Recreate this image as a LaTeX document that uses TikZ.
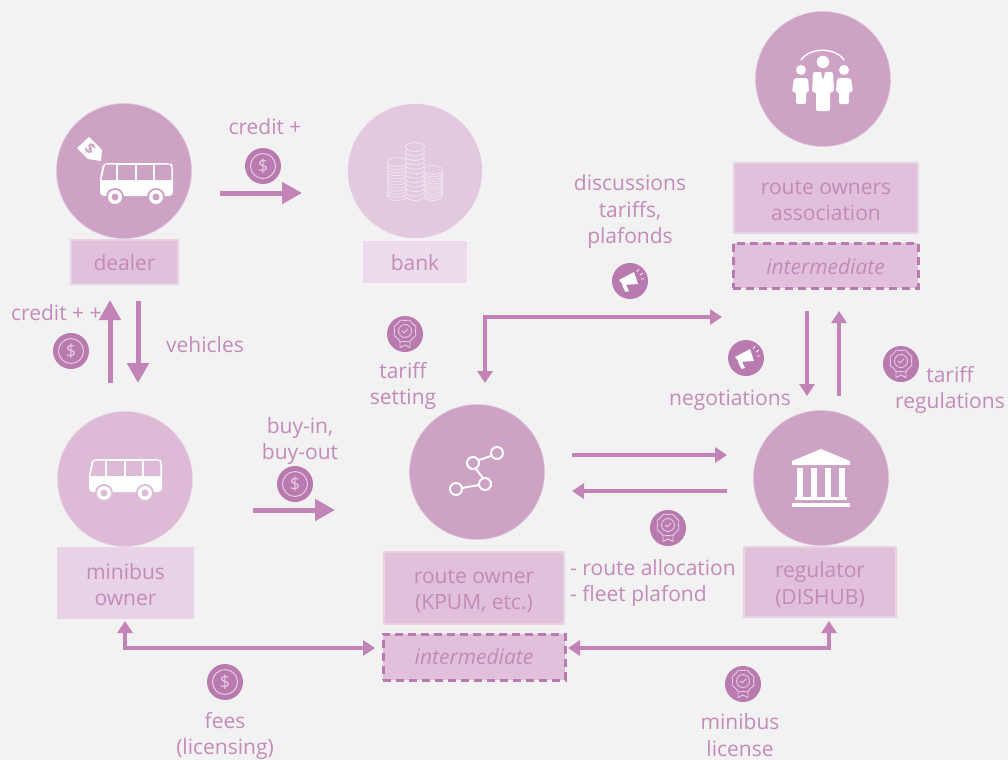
\documentclass[tikz,border=0pt]{standalone}
\usepackage{fontspec}
\setmainfont{Open Sans}
\usetikzlibrary{arrows.meta,calc}
\definecolor{bgc}{HTML}{F2F2F2}
\definecolor{circA}{HTML}{CDA2C5}
\definecolor{circB}{HTML}{DDBAD6}
\definecolor{circC}{HTML}{E3C9E0}
\definecolor{boxA}{HTML}{E0C0DB}
\definecolor{boxB}{HTML}{E8D2E5}
\definecolor{boxC}{HTML}{ECDCEB}
\definecolor{edgeA}{HTML}{E8D2E5}
\definecolor{arrc}{HTML}{C283B6}
\definecolor{txtc}{HTML}{C48ABA}
\definecolor{coinc}{HTML}{B97AAF}
\definecolor{dashc}{HTML}{B97AAF}
\definecolor{markc}{HTML}{E6CDE2}
\newcommand{\bt}[2]{\raisebox{-#1pt}[\height][\depth]{\begin{tabular}{@{}c@{}}#2\end{tabular}}}
\tikzset{
  disc/.style={circle,inner sep=0pt,minimum size=135pt,fill=circA,draw=circA!60!white,line width=.6pt},
  labelbox/.style={rectangle,inner sep=0pt,fill=boxA,draw=edgeA,line width=1.2pt,text=txtc,align=center,font=\fontsize{21}{26.5}\selectfont},
  interbox/.style={rectangle,inner sep=0pt,fill=boxA,draw=dashc,line width=3pt,dash pattern=on 8pt off 5pt,text=txtc,font=\fontsize{21}{26.5}\selectfont\itshape},
  lbl/.style={inner sep=0pt,text=txtc,align=center,font=\fontsize{21}{26.5}\selectfont},
  coinbg/.style={circle,inner sep=0pt,minimum size=36pt,fill=coinc},
  thick arrow/.style={draw=arrc,line width=5pt,-{Triangle[length=20pt,width=21pt]}},
  thin arrow/.style={draw=arrc,line width=3.6pt,-{Triangle[length=12pt,width=15pt]}},
  thin both/.style={draw=arrc,line width=3.6pt,{Triangle[length=12pt,width=15pt]}-{Triangle[length=12pt,width=15pt]}},
  pics/bus/.style={code={
    \fill[white,rounded corners=4pt] (-33,-20) -- (35,-20) -- (37,-17) -- (37,13) -- (-36,13) -- (-36,-4) -- cycle;
    \fill[#1] (-31,-18.3) -- (-20,-18.3) -- (-20,-3) -- (-34.5,-3) -- cycle;
    \fill[#1] (-18,-18.3) rectangle (-.8,-3);
    \fill[#1] (.8,-18.3) rectangle (17.2,-3);
    \fill[#1] (18.8,-18.3) -- (33.5,-18.3) -- (35.4,-16) -- (35.4,-3) -- (18.8,-3) -- cycle;
    \foreach \q in {-21,20}{
      \fill[#1] (\q,14) circle[radius=9pt];
      \fill[white] (\q,14) circle[radius=7pt];
      \fill[#1] (\q,14) circle[radius=3.5pt];
    }
  }},
  pics/dollar/.style={code={
    \draw[markc,line width=1pt] (0,0) circle[radius=12.5pt];
    \node[inner sep=0pt,text=markc,font=\fontsize{18}{18}\selectfont] (#1) at (0,0) {\$};
  }},
  pics/award/.style={code={
    \draw[markc,line width=.9pt,line join=round]
      plot[smooth cycle,tension=.2,samples at={0,22.5,...,337.5}] ({(10.5+1.2*mod(round(\x/22.5),2))*cos(\x)},{-3+(10.5+1.2*mod(round(\x/22.5),2))*sin(\x)});
    \draw[markc,line width=.9pt] (0,-3) circle[radius=6.5pt];
    \draw[markc,line width=.9pt] (-3,-3) -- (-.7,-1.2) -- (3,-5);
    \draw[markc,line width=.9pt,line join=round] (-5,7) -- (-5,13.5) -- (0,11) -- (5,13.5) -- (5,7);
  }},
  pics/horn/.style={code={
    \fill[white] (-11,-1) -- (4,-9) -- (8,3) -- (-7,4) -- cycle;
    \fill[white] (-8,4) -- (-4,4) -- (-1,10) -- (-4.5,11) -- cycle;
    \draw[white,line width=.8pt] (7,-9) -- (9,-12) (10,-6) -- (13,-8) (11,-2) -- (14,-2);
  }}
}
\begin{document}
\begin{tikzpicture}[x=1pt,y=-1pt]
\fill[bgc] (0,0) rectangle (1008,760);
\useasboundingbox (0,0) rectangle (1008,760);

% main discs
\node[disc] (dealer) at (124,171) {};
\node[disc,fill=circC,draw=white!70!circC] (bank) at (415,171) {};
\node[disc] (assoc) at (823,79) {};
\node[disc,fill=circB,draw=circB!60!white] (owner) at (125,479) {};
\node[disc] (route) at (477,472) {};
\node[disc] (reg) at (821,478) {};

% label boxes
\node[labelbox,minimum width=107pt,minimum height=44pt] (dealerbox) at (124.5,262) {\bt{3}{dealer}};
\node[labelbox,minimum width=106pt,minimum height=44pt,fill=boxC,draw=white!60!boxC] (bankbox) at (415,262) {\bt{3}{bank}};
\node[labelbox,minimum width=184pt,minimum height=70pt] (assocbox) at (826,198) {\bt{4}{route owners\\association}};
\node[interbox,minimum width=185pt,minimum height=45pt] (assocint) at (825.5,265.5) {\bt{4}{intermediate}};
\node[labelbox,minimum width=135pt,minimum height=70pt,fill=boxB] (ownerbox) at (125.5,583) {\bt{4}{minibus\\owner}};
\node[labelbox,minimum width=180pt,minimum height=72pt] (routebox) at (474,588) {\bt{3}{route owner\\(KPUM, etc.)}};
\node[interbox,minimum width=182pt,minimum height=46pt] (routeint) at (474,657) {intermediate};
\node[labelbox,minimum width=152pt,minimum height=70pt] (regbox) at (820,582) {\bt{3.5}{regulator\\(DISHUB)}};

% free connector ends
\coordinate (cr0) at (220,193);  \coordinate (cr1) at (302,193);
\coordinate (up0) at (110,383);  \coordinate (up1) at (110,300);
\coordinate (dn0) at (138,301);  \coordinate (dn1) at (138,383);
\coordinate (bu0) at (253,510);  \coordinate (bu1) at (335,510);
\coordinate (di0) at (722,317);  \coordinate (di1) at (485,317);  \coordinate (di2) at (485,383);
\coordinate (ne0) at (807,311);  \coordinate (ne1) at (807,396);
\coordinate (ta0) at (839,396);  \coordinate (ta1) at (839,311);
\coordinate (rr0) at (572,455);  \coordinate (rr1) at (727,455);
\coordinate (ll0) at (727,491);  \coordinate (ll1) at (572,491);
\coordinate (bl0) at (375,648);  \coordinate (bl1) at (125,648);  \coordinate (bl2) at (125,621);
\coordinate (br0) at (568,648);  \coordinate (br1) at (829,648);  \coordinate (br2) at (829,621);

% connectors
\draw[thick arrow] (cr0) -- (cr1);
\draw[thick arrow] (up0) -- (up1);
\draw[thick arrow] (dn0) -- (dn1);
\draw[thick arrow] (bu0) -- (bu1);
\draw[thin both] (di0) -- (di1) -- (di2);
\draw[thin arrow] (ne0) -- (ne1);
\draw[thin arrow] (ta0) -- (ta1);
\draw[thin arrow] (rr0) -- (rr1);
\draw[thin arrow] (ll0) -- (ll1);
\draw[thin both] (bl0) -- (bl1) -- (bl2);
\draw[thin both] (br0) -- (br1) -- (br2);

% coin / award / megaphone marks
\node[coinbg] (c1) at (263,166) {}; \pic at (c1) {dollar=d1};
\node[coinbg] (c2) at (71,351) {};  \pic at (c2) {dollar=d2};
\node[coinbg] (c3) at (295,484) {}; \pic at (c3) {dollar=d3};
\node[coinbg] (c4) at (225,682) {}; \pic at (c4) {dollar=d4};
\node[coinbg] (a1) at (405,334) {}; \pic at (a1) {award};
\node[coinbg] (a2) at (668,528) {}; \pic at (a2) {award};
\node[coinbg] (a3) at (901,364) {}; \pic at (a3) {award};
\node[coinbg] (a4) at (743,684) {}; \pic at (a4) {award};
\node[coinbg] (m1) at (630,281) {}; \pic at (m1) {horn};
\node[coinbg] (m2) at (746,358) {}; \pic at (m2) {horn};

% texts
\node[lbl] (t1) at (265,127) {credit +};
\node[lbl,anchor=west] (t2) at (11,312.5) {credit + +};
\node[lbl] (t3) at (205,345) {vehicles};
\node[lbl] (t4) at (630,212) {discussions\\tariffs,\\plafonds};
\node[lbl] (t5) at (403,386) {tariff\\setting};
\node[lbl] (t6) at (730,400.5) {negotiations};
\node[lbl] (t7) at (950,390) {tariff\\regulations};
\node[lbl] (t8) at (300,441) {buy-in,\\buy-out};
\node[lbl,align=left,anchor=west] (t9) at (570,583) {- route allocation\\- fleet plafond};
\node[lbl] (t10) at (225,736) {fees\\(licensing)};
\node[lbl] (t11) at (740,735) {minibus\\license};

% dealer icon
\pic at (136,183) {bus=circA};
\fill[white] (77,148) -- (89,137) -- (102,150) -- (101,161) -- (88,159) -- cycle;
\node[inner sep=0pt,rotate=-45,text=circA,font=\fontsize{15}{15}\selectfont\bfseries] (tagd) at (90,149) {\$};
% minibus owner icon
\pic at (125,479) {bus=circB};

% bank icon: coin stacks
\foreach \sx/\ty/\by in {397/162/196,433/170/196,415/147/196}{
  \foreach \k in {0,...,11}{
    \pgfmathsetmacro{\yk}{\by-\k*(\by-\ty)/11}
    \fill[circC] (\sx,\yk) ellipse[x radius=9.5pt,y radius=4.5pt];
    \draw[white!50!circC,line width=.8pt] (\sx,\yk) ellipse[x radius=9.5pt,y radius=4.5pt];
  }
}

% association icon
\draw[white,line width=1.4pt] (801,60) .. controls (810,47) and (835,47) .. (844,60);
\fill[white] (823,62) circle[radius=6.2pt];
\fill[white] (801,70) circle[radius=5pt];
\fill[white] (844,70) circle[radius=5pt];
\fill[white,rounded corners=2pt] (813,72) -- (833,72) -- (834,92) -- (830,92) -- (830,111) -- (816,111) -- (816,92) -- (812,92) -- cycle;
\fill[circA] (821,72) -- (825,72) -- (823,80) -- cycle;
\fill[white,rounded corners=2pt] (794,78) -- (808,78) -- (809,92) -- (806,92) -- (806,104) -- (796,104) -- (796,92) -- (792,92) -- cycle;
\fill[white,rounded corners=2pt] (837,78) -- (851,78) -- (853,92) -- (849,92) -- (849,104) -- (839,104) -- (839,92) -- (836,92) -- cycle;

% route icon
\draw[white,line width=2pt] (462,488) -- (479,485) (483,478) -- (476,469) (479,460) -- (491,456);
\foreach \p/\q in {456/489,485/484,473/463,497/453}
  \draw[white,line width=2pt] (\p,\q) circle[radius=6pt];

% regulator icon
\fill[white] (792,461) -- (821,449) -- (850,461) -- (850,465) -- (792,465) -- cycle;
\foreach \p/\q in {797/803,811/817,825/831,839/845}
  \fill[white] (\p,468) rectangle (\q,497);
\fill[white] (795,497) rectangle (847,500);
\fill[white] (792,503) rectangle (850,507);
\end{tikzpicture}
\end{document}
